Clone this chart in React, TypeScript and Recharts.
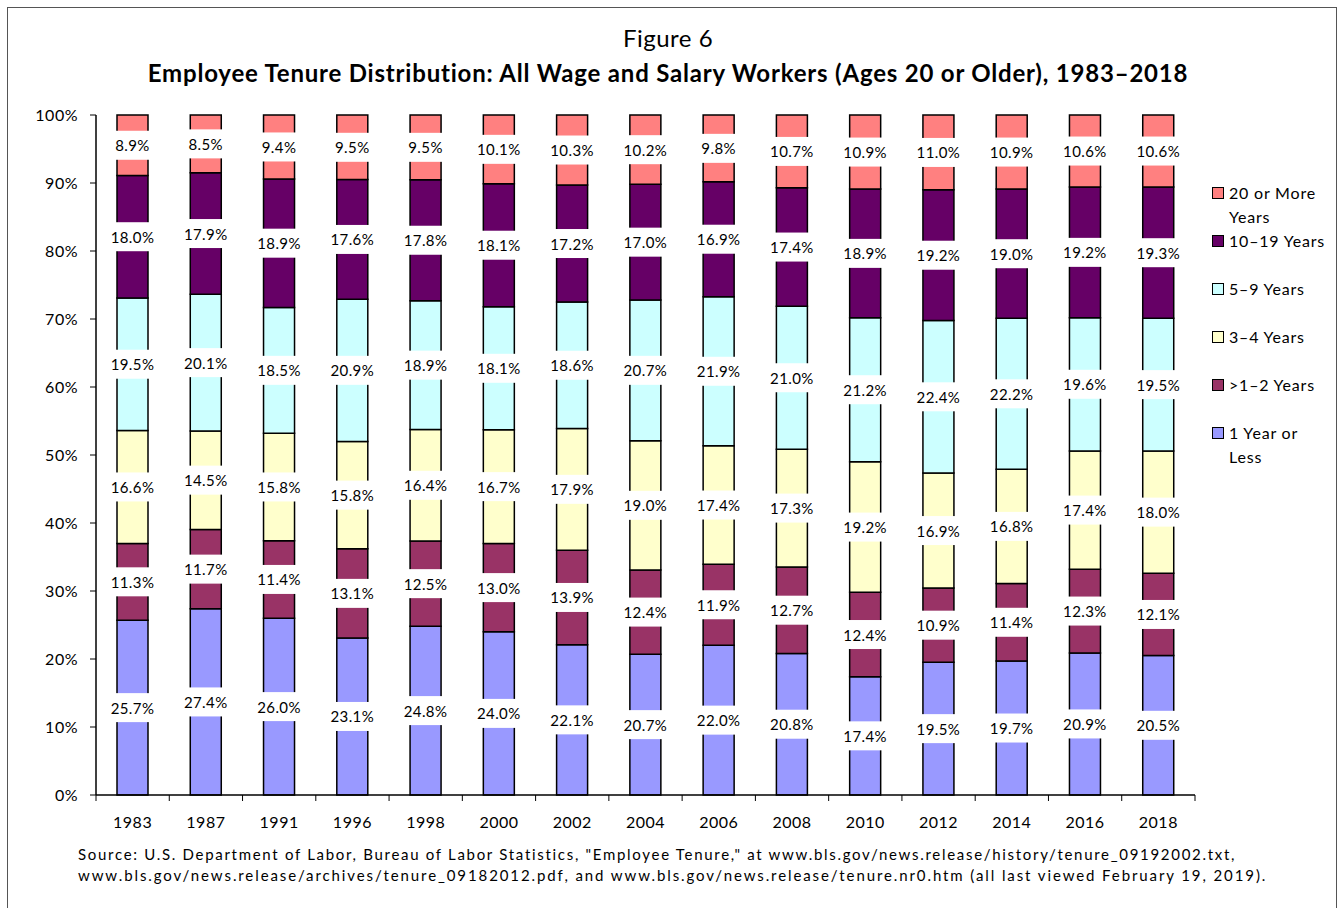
import React from "react";
import { BarChart, Bar, XAxis, YAxis, LabelList } from "recharts";

const YEARS = ["1983", "1987", "1991", "1996", "1998", "2000", "2002", "2004", "2006", "2008", "2010", "2012", "2014", "2016", "2018"];
const LESS_1 = [25.7, 27.4, 26.0, 23.1, 24.8, 24.0, 22.1, 20.7, 22.0, 20.8, 17.4, 19.5, 19.7, 20.9, 20.5];
const Y1_2 = [11.3, 11.7, 11.4, 13.1, 12.5, 13.0, 13.9, 12.4, 11.9, 12.7, 12.4, 10.9, 11.4, 12.3, 12.1];
const Y3_4 = [16.6, 14.5, 15.8, 15.8, 16.4, 16.7, 17.9, 19.0, 17.4, 17.3, 19.2, 16.9, 16.8, 17.4, 18.0];
const Y5_9 = [19.5, 20.1, 18.5, 20.9, 18.9, 18.1, 18.6, 20.7, 21.9, 21.0, 21.2, 22.4, 22.2, 19.6, 19.5];
const Y10_19 = [18.0, 17.9, 18.9, 17.6, 17.8, 18.1, 17.2, 17.0, 16.9, 17.4, 18.9, 19.2, 19.0, 19.2, 19.3];
const Y20_PLUS = [8.9, 8.5, 9.4, 9.5, 9.5, 10.1, 10.3, 10.2, 9.8, 10.7, 10.9, 11.0, 10.9, 10.6, 10.6];
const Y_TICKS = [0, 0.1, 0.2, 0.3, 0.4, 0.5, 0.6, 0.7, 0.8, 0.9, 1];

// bottom to top stacking order
const SERIES = [
  { key: "s1", name: "1 Year or Less", values: LESS_1, color: "#9999FF" },
  { key: "s2", name: ">1–2 Years", values: Y1_2, color: "#993366" },
  { key: "s3", name: "3–4 Years", values: Y3_4, color: "#FFFFCC" },
  { key: "s4", name: "5–9 Years", values: Y5_9, color: "#CCFFFF" },
  { key: "s5", name: "10–19 Years", values: Y10_19, color: "#660066" },
  { key: "s6", name: "20 or More Years", values: Y20_PLUS, color: "#FF8080" },
];

const data = YEARS.map((year, i) => {
  const row: any = { year };
  SERIES.forEach((s) => (row[s.key] = s.values[i]));
  return row;
});

const FONT = "Lato, 'Open Sans', sans-serif";
const CHART_W = 1340;
const CHART_H = 908;
const MARGIN = { top: 115, right: 145, bottom: 73, left: 36 };
const Y_AXIS_W = 60;
const BAND = (CHART_W - MARGIN.left - MARGIN.right - Y_AXIS_W) / YEARS.length;

const makeLabel = (values: number[]) => (props: any) => {
  const { x, y, width, height, index } = props;
  const cx = x + width / 2;
  const cy = y + height / 2;
  return (
    <g>
      <rect x={cx - 30} y={cy - 14.5} width={60} height={29} fill="#fff" />
      <text x={cx} y={cy} textAnchor="middle" dominantBaseline="central" fontSize={15} letterSpacing={0.4} fontFamily={FONT} fill="#000">
        {values[index].toFixed(1)}%
      </text>
    </g>
  );
};

const XTick = (props: any) => {
  const { x, y, payload, index } = props;
  const axisY = y - 8;
  return (
    <g>
      <line x1={x - BAND / 2} x2={x - BAND / 2} y1={axisY} y2={axisY + 6} stroke="#000" />
      {index === YEARS.length - 1 && (
        <line x1={x + BAND / 2} x2={x + BAND / 2} y1={axisY} y2={axisY + 6} stroke="#000" />
      )}
      <text x={x} y={axisY + 26} textAnchor="middle" dominantBaseline="central" fontSize={16} letterSpacing={0.5} fontFamily={FONT} fill="#000">
        {payload.value}
      </text>
    </g>
  );
};

export default function App() {
  const legendItems = [...SERIES].reverse();
  return (
    <div style={{ position: "absolute", left: 0, top: 0, width: CHART_W, height: CHART_H, background: "#fff", fontFamily: FONT }}>
      <div style={{ position: "absolute", left: 7, top: 7, width: 1330, height: 910, border: "1px solid #555", boxSizing: "border-box" }} />
      <div style={{ position: "absolute", left: 0, width: 1336, top: 23, textAlign: "center", fontSize: 24, letterSpacing: 0.5, lineHeight: "30px" }}>Figure 6</div>
      <div style={{ position: "absolute", left: 0, width: 1336, top: 57, textAlign: "center", fontSize: 24, fontWeight: 700, letterSpacing: 0.8, lineHeight: "32px", whiteSpace: "nowrap" }}>
        Employee Tenure Distribution: All Wage and Salary Workers (Ages 20 or Older), 1983–2018
      </div>
      <div style={{ position: "absolute", left: 0, top: 0 }}>
        <BarChart width={CHART_W} height={CHART_H} data={data} margin={MARGIN} stackOffset="expand" barSize={31}>
          <XAxis
            dataKey="year"
            tick={<XTick />}
            tickLine={false}
            axisLine={{ stroke: "#000", strokeWidth: 1.5 }}
            height={40}
            tickSize={0}
            tickMargin={8}
            interval={0}
          />
          <YAxis
            domain={[0, 1]}
            ticks={Y_TICKS}
            tickFormatter={(v: number) => `${Math.round(v * 100)}%`}
            axisLine={{ stroke: "#000", strokeWidth: 1.5 }}
            tickLine={{ stroke: "#000" }}
            tickSize={6}
            tickMargin={12}
            width={Y_AXIS_W}
            tick={{ fontSize: 16, fontFamily: FONT, fill: "#000", letterSpacing: 0.5 }}
            interval={0}
          />
          {SERIES.map((s) => (
            <Bar key={s.key} dataKey={s.key} name={s.name} stackId="a" fill={s.color} stroke="#000" strokeWidth={1.5} isAnimationActive={false}>
              <LabelList dataKey={s.key} content={makeLabel(s.values)} />
            </Bar>
          ))}
        </BarChart>
      </div>
      {/* legend */}
      <div style={{ position: "absolute", left: 1212, top: 181 }}>
        {legendItems.map((s) => (
          <div key={s.key} style={{ position: "relative", height: 48, width: 115 }}>
            <span
              style={{ position: "absolute", left: 0, top: 6, width: 12, height: 12, background: s.color, border: "1px solid #000", boxSizing: "border-box" }}
            />
            <span style={{ position: "absolute", left: 17, top: 0, fontSize: 16, letterSpacing: 0.8, lineHeight: "24px", width: 100 }}>{s.name}</span>
          </div>
        ))}
      </div>
      <div style={{ position: "absolute", left: 78, top: 844, fontSize: 15, lineHeight: "21px", whiteSpace: "nowrap" }}>
        <div style={{ letterSpacing: 1.7 }}>Source:  U.S. Department of Labor, Bureau of Labor Statistics, "Employee Tenure," at www.bls.gov/news.release/history/tenure_09192002.txt,</div>
        <div style={{ letterSpacing: 1.9 }}>www.bls.gov/news.release/archives/tenure_09182012.pdf, and www.bls.gov/news.release/tenure.nr0.htm (all last viewed February 19, 2019).</div>
      </div>
    </div>
  );
}
